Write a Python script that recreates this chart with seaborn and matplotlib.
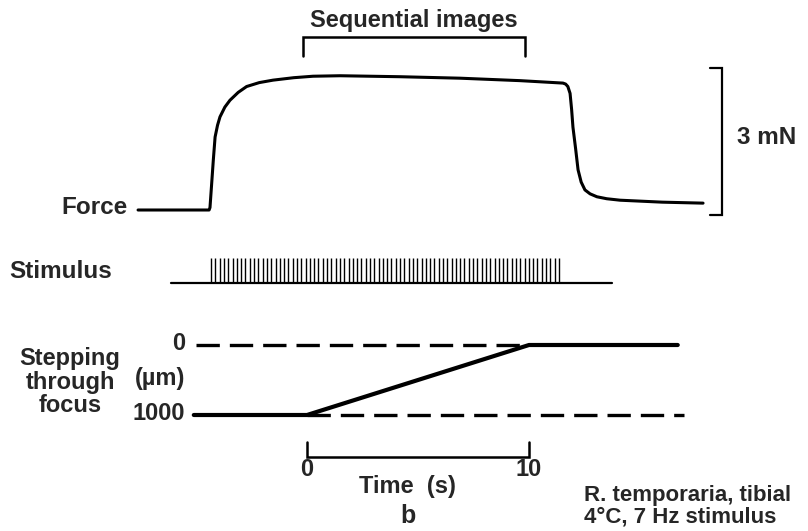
import matplotlib
matplotlib.use('Agg')

import numpy as np
import pandas as pd
import seaborn as sns
import matplotlib.pyplot as plt

# force trace (time in s, force in mN)
force_t = [-7.61, -4.41, -4.37, -4.30, -4.22, -4.14, -4.03, -3.92, -3.70, -3.47,
           -3.10, -2.72, -2.15, -1.53, -0.60, 0.27, 1.49, 4.19, 6.89, 9.59,
           11.53, 11.65, 11.75, 11.85, 11.92, 11.98, 12.10, 12.21, 12.35, 12.52,
           12.75, 13.06, 13.50, 14.10, 16.00, 17.84]
force_mn = [0.00, 0.00, 0.05, 0.50, 1.02, 1.49, 1.73, 1.90, 2.10, 2.24,
            2.40, 2.52, 2.60, 2.65, 2.70, 2.73, 2.74, 2.72, 2.69, 2.64,
            2.59, 2.57, 2.52, 2.38, 2.05, 1.69, 1.25, 0.82, 0.57, 0.41,
            0.33, 0.27, 0.23, 0.20, 0.16, 0.14]

# stimulus train
stim_base_t = [-6.13, 13.74]
pulse_start, pulse_end, n_pulses = -4.32, 11.35, 82

# stepping through focus (um)
focus_t = [-5.1, 0.0, 10.0, 16.7]
focus_um = [1000, 1000, 0, 0]
dash_top_t = [-5.0, 10.0]
dash_bot_t = [0.0, 17.0]

seq_images = [-0.2, 9.8]
time_ticks = [0, 10]

sns.set_style('white')
plt.rcParams['font.family'] = ['Liberation Sans', 'DejaVu Sans']

W, H = 808, 531
fig = plt.figure(figsize=(W / 100, H / 100), dpi=100)

xlim = ((0 - 307) / 22.2, (W - 307) / 22.2)


def full_axes(ylim):
    ax = fig.add_axes([0, 0, 1, 1])
    ax.patch.set_alpha(0)
    ax.set_xlim(*xlim)
    ax.set_ylim(*ylim)
    ax.axis('off')
    return ax


# pixel row -> data mappings for each trace
ax_f = full_axes(((210 - H) / 49, 210 / 49))
ax_s = full_axes(((283 - H) / 25, 283 / 25))
ax_z = full_axes(((H - 345) * 1000 / 70, (0 - 345) * 1000 / 70))

k = dict(color='black', estimator=None, sort=False, legend=False)

# force
df_f = pd.DataFrame({'t': force_t, 'f': force_mn})
sns.lineplot(data=df_f, x='t', y='f', ax=ax_f, linewidth=2.2, **k)
# sequential images bracket
ax_f.plot([seq_images[0], seq_images[0], seq_images[1], seq_images[1]],
          [3.14, 3.53, 3.53, 3.14], color='black', lw=1.8, solid_joinstyle='miter')
# 3 mN scale bar
sb_t = (722 - 307) / 22.2
ax_f.plot([sb_t - 0.55, sb_t, sb_t, sb_t - 0.55], [-0.10, -0.10, 2.90, 2.90],
          color='black', lw=1.6, solid_joinstyle='miter')

# stimulus
sns.lineplot(x=stim_base_t, y=[0, 0], ax=ax_s, linewidth=1.6, **k)
pulses = np.linspace(pulse_start, pulse_end, n_pulses)
ax_s.vlines(pulses, 0, 1, color='black', lw=1.0)

# focus
sns.lineplot(x=focus_t, y=focus_um, ax=ax_z, linewidth=3.0, **k)
ax_z.plot(dash_top_t, [0, 0], color='black', lw=2.4, dashes=(7, 3))
ax_z.plot(dash_bot_t, [1000, 1000], color='black', lw=2.4, dashes=(7, 3))
# time bracket
ax_z.plot([time_ticks[0], time_ticks[0], time_ticks[1], time_ticks[1]],
          [1386, 1600, 1600, 1386], color='black', lw=1.8, solid_joinstyle='miter')


def txt(x, y, s, ha='center', size=17.5, weight='bold', **kw):
    fig.text(x / W, 1 - y / H, s, ha=ha, va='center', fontsize=size,
             fontweight=weight, **kw)


txt(414, 20, 'Sequential images', size=17)
txt(128, 207, 'Force', ha='right')
txt(737, 137, '3 mN', ha='left')
txt(9, 272, 'Stimulus', ha='left')
txt(185, 343, '0', ha='right', size=17)
txt(185, 414, '1000', ha='right', size=17)
txt(70, 382, 'Stepping\nthrough\nfocus', size=17, linespacing=1.05)
txt(160, 378, '(µm)', size=17)
for t in time_ticks:
    txt(307 + t * 22.2, 470, str(t), size=17)
txt(407, 487, 'Time  (s)', size=17)
txt(408, 516, 'b', size=18)
txt(584, 496, 'R. temporaria, tibial', ha='left', size=16)
txt(584, 517, '4°C, 7 Hz stimulus', ha='left', size=16)

fig.savefig('out.png', dpi=100)
